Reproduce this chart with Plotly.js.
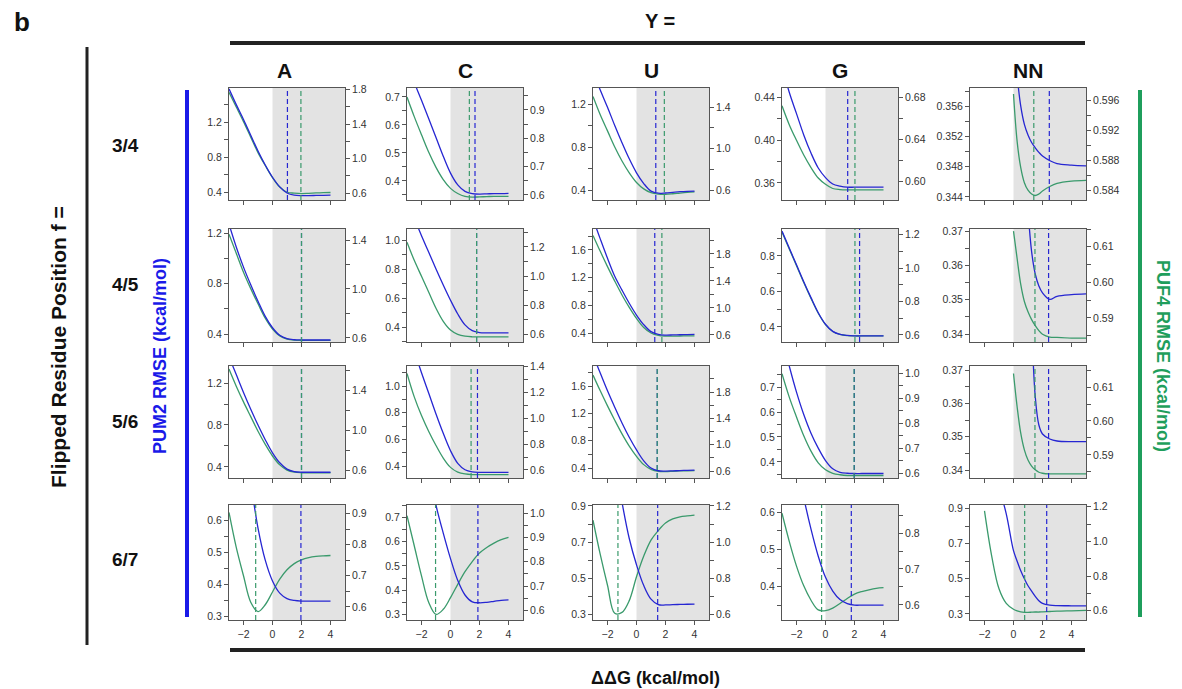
<!DOCTYPE html>
<html><head><meta charset="utf-8">
<script src="https://cdn.plot.ly/plotly-3.0.1.min.js"></script>
<style>html,body{margin:0;padding:0;background:#fff}#chart{width:1182px;height:689px}</style>
</head><body><div id="chart"></div>
<script>
// ---------------- DATA ----------------
const X  = [-3,-2.5,-2,-1.5,-1,-0.5,0,0.5,1,1.5,2,2.5,3,3.5,4];
const XN = [-2,-1.5,-1,-0.5,0,0.25,0.5,0.75,1,1.25,1.5,1.75,2,2.5,3,4,5];
const columns = ['A','C','U','G','NN'];
const rowLabels = ['3/4','4/5','5/6','6/7'];

// PUM2 RMSE (left axis), one array per column A, C, U, G, NN
const pum2_f34 = [
 [1.58,1.40,1.23,1.05,0.87,0.71,0.57,0.46,0.39,0.365,0.36,0.36,0.362,0.364,0.365],
 [0.82,0.752,0.688,0.622,0.555,0.488,0.428,0.386,0.363,0.355,0.353,0.354,0.355,0.355,0.356],
 [1.50,1.33,1.17,1.0,0.84,0.69,0.56,0.46,0.39,0.37,0.372,0.378,0.384,0.388,0.39],
 [0.47,0.445,0.425,0.405,0.388,0.374,0.365,0.359,0.357,0.356,0.356,0.356,0.356,0.356,0.356],
 [null,null,null,null,null,0.3600,0.3560,0.3536,0.3522,0.3512,0.3505,0.3499,0.3494,0.3488,0.3484,0.3482,0.3481]
];
const pum2_f45 = [
 [1.27,1.09,0.93,0.79,0.66,0.54,0.45,0.39,0.363,0.355,0.353,0.353,0.353,0.353,0.353],
 [1.27,1.15,1.03,0.915,0.80,0.69,0.585,0.49,0.415,0.375,0.362,0.36,0.36,0.36,0.36],
 [2.05,1.76,1.48,1.22,1.02,0.83,0.66,0.52,0.42,0.38,0.37,0.372,0.375,0.378,0.38],
 [0.94,0.845,0.75,0.655,0.565,0.48,0.415,0.375,0.358,0.352,0.35,0.35,0.35,0.35,0.35],
 [null,null,null,null,null,null,null,null,0.3760,0.3640,0.3575,0.3540,0.3520,0.3501,0.3510,0.3515,0.3517]
];
const pum2_f56 = [
 [1.45,1.28,1.11,0.95,0.80,0.66,0.535,0.44,0.38,0.356,0.35,0.35,0.35,0.35,0.35],
 [1.42,1.26,1.10,0.945,0.79,0.645,0.515,0.42,0.372,0.356,0.352,0.352,0.352,0.352,0.352],
 [2.05,1.79,1.53,1.29,1.06,0.85,0.665,0.505,0.40,0.36,0.355,0.358,0.362,0.366,0.368],
 [0.90,0.785,0.68,0.59,0.515,0.455,0.405,0.372,0.358,0.354,0.353,0.353,0.353,0.353,0.353],
 [null,null,null,null,null,null,null,null,null,0.385,0.362,0.3535,0.3508,0.3493,0.3487,0.3485,0.3485]
];
const pum2_f67 = [
 [null,null,null,0.72,0.575,0.475,0.41,0.372,0.355,0.349,0.347,0.347,0.347,0.347,0.347],
 [null,null,null,0.90,0.75,0.635,0.53,0.44,0.38,0.352,0.348,0.35,0.354,0.358,0.36],
 [null,null,null,null,0.92,0.72,0.575,0.46,0.385,0.355,0.353,0.355,0.356,0.357,0.358],
 [null,null,0.74,0.64,0.555,0.482,0.425,0.388,0.365,0.354,0.35,0.35,0.35,0.35,0.35],
 [null,null,1.02,0.87,0.66,0.60,0.545,0.50,0.46,0.43,0.40,0.375,0.36,0.35,0.347,0.346,0.346]
];

// PUF4 RMSE (right axis)
const puf4_f34 = [
 [1.77,1.60,1.43,1.25,1.07,0.92,0.78,0.67,0.61,0.60,0.595,0.598,0.602,0.605,0.607],
 [0.945,0.876,0.812,0.750,0.697,0.654,0.623,0.605,0.595,0.592,0.593,0.594,0.595,0.595,0.595],
 [1.501,1.325,1.170,1.015,0.880,0.766,0.673,0.611,0.574,0.561,0.559,0.564,0.571,0.577,0.582],
 [0.672,0.654,0.639,0.625,0.613,0.603,0.597,0.593,0.592,0.5917,0.5917,0.5917,0.5917,0.5917,0.5917],
 [null,null,null,null,0.5968,0.5905,0.5870,0.5850,0.5840,0.5835,0.5833,0.5835,0.5839,0.5845,0.5849,0.5852,0.5853]
];
const puf4_f45 = [
 [1.447,1.292,1.137,1.003,0.879,0.761,0.673,0.617,0.591,0.582,0.580,0.580,0.580,0.580,0.580],
 [1.233,1.108,0.998,0.888,0.778,0.688,0.628,0.598,0.585,0.581,0.581,0.581,0.581,0.581,0.581],
 [2.075,1.839,1.613,1.398,1.193,1.009,0.845,0.711,0.629,0.593,0.583,0.583,0.585,0.587,0.588],
 [1.215,1.114,1.014,0.913,0.818,0.730,0.662,0.621,0.603,0.596,0.594,0.594,0.594,0.594,0.594],
 [null,null,null,null,0.6144,0.6067,0.5994,0.5946,0.5917,0.5895,0.5878,0.5864,0.5854,0.5846,0.5845,0.5843,0.5843]
];
const puf4_f56 = [
 [1.610,1.4385,1.281,1.134,0.987,0.856,0.740,0.651,0.599,0.578,0.5725,0.5725,0.5725,0.5725,0.5725],
 [1.345,1.164,1.020,0.897,0.789,0.692,0.620,0.584,0.569,0.564,0.564,0.564,0.564,0.564,0.564],
 [2.057,1.818,1.590,1.372,1.164,0.978,0.822,0.697,0.625,0.596,0.592,0.596,0.601,0.604,0.606],
 [0.999,0.905,0.825,0.750,0.688,0.641,0.613,0.599,0.593,0.59,0.59,0.59,0.59,0.59,0.59],
 [null,null,null,null,0.6140,0.6042,0.5964,0.5915,0.5885,0.5867,0.5856,0.5849,0.5846,0.5844,0.5844,0.5844,0.5844]
];
const puf4_f67 = [
 [0.903,0.791,0.700,0.615,0.585,0.607,0.648,0.689,0.719,0.739,0.751,0.758,0.762,0.764,0.765],
 [0.990,0.866,0.742,0.632,0.583,0.604,0.652,0.707,0.759,0.801,0.836,0.859,0.877,0.891,0.901],
 [1.121,0.932,0.762,0.607,0.612,0.677,0.809,0.923,1.011,1.064,1.106,1.128,1.140,1.145,1.149],
 [0.855,0.777,0.708,0.653,0.613,0.586,0.584,0.591,0.604,0.618,0.630,0.637,0.642,0.646,0.648],
 [1.176,0.914,0.727,0.643,0.609,0.600,0.594,0.591,0.591,0.592,0.593,0.593,0.594,0.596,0.598,0.600,0.602]
];

// optimal ddG (dashed lines), per row, per column
const pum2Opt = [[1.03,1.69,1.33,1.53,2.47],[2.0,1.8,1.26,2.35,2.42],[2.0,1.86,1.43,1.99,2.42],[1.96,1.89,1.46,1.78,2.29]];
const puf4Opt = [[1.96,1.30,1.92,2.03,1.40],[2.0,1.8,1.75,2.03,1.48],[2.0,1.42,1.43,1.97,1.48],[-1.16,-1.03,-1.28,-0.27,0.77]];

// axis ranges
const pum2Range = [
 [[0.31,1.59],[0.332,0.732],[0.307,1.349],[0.344,0.449],[0.3436,0.3584]],
 [[0.337,1.232],[0.297,1.076],[0.27,1.903],[0.315,0.952],[0.3377,0.3706]],
 [[0.295,1.362],[0.31,1.15],[0.254,1.893],[0.335,0.785],[0.3376,0.3712]],
 [[0.288,0.647],[0.277,0.751],[0.27,0.905],[0.31,0.62],[0.265,0.92]]
];
const puf4Range = [
 [[0.52,1.82],[0.582,0.977],[0.504,1.583],[0.582,0.689],[0.5827,0.5976]],
 [[0.567,1.49],[0.545,1.324],[0.496,2.17],[0.558,1.233],[0.5832,0.615]],
 [[0.52,1.64],[0.538,1.402],[0.494,2.195],[0.58,1.03],[0.5832,0.6162]],
 [[0.558,0.927],[0.56,1.034],[0.57,1.205],[0.558,0.878],[0.547,1.21]]
];
// tick steps [dtick, tick0, format]
const leftTicks = [
 [[0.4,0,'.1f'],[0.1,0,'.1f'],[0.4,0,'.1f'],[0.04,0,'.2f'],[0.004,0,'.3f']],
 [[0.4,0,'.1f'],[0.2,0,'.1f'],[0.4,0,'.1f'],[0.2,0,'.1f'],[0.01,0,'.2f']],
 [[0.4,0,'.1f'],[0.2,0,'.1f'],[0.4,0,'.1f'],[0.1,0,'.1f'],[0.01,0,'.2f']],
 [[0.1,0,'.1f'],[0.1,0,'.1f'],[0.2,0.1,'.1f'],[0.1,0,'.1f'],[0.2,0.1,'.1f']]
];
const rightTicks = [
 [[0.4,0.2,'.1f'],[0.1,0,'.1f'],[0.4,0.2,'.1f'],[0.04,0,'.2f'],[0.004,0,'.3f']],
 [[0.4,0.2,'.1f'],[0.2,0,'.1f'],[0.4,0.2,'.1f'],[0.2,0,'.1f'],[0.01,0,'.2f']],
 [[0.4,0.2,'.1f'],[0.2,0,'.1f'],[0.4,0.2,'.1f'],[0.1,0,'.1f'],[0.01,0,'.2f']],
 [[0.1,0,'.1f'],[0.1,0,'.1f'],[0.2,0,'.1f'],[0.1,0,'.1f'],[0.2,0,'.1f']]
];
const xTickVals = [-2,0,2,4];

const pum2Rows = [pum2_f34,pum2_f45,pum2_f56,pum2_f67];
const puf4Rows = [puf4_f34,puf4_f45,puf4_f56,puf4_f67];

// ---------------- LAYOUT ----------------
const W = 1182, H = 689;
const PX = v => v / W, PY = v => 1 - v / H;
const colPx = [[229,345],[407,523],[593,709],[782,898],[970,1086]];
const rowPx = [[88,200],[229,342],[366,478],[505,620]];
const BLUE = '#2626d2', GREEN = '#3a9a6c', AX = '#555';
const tickFont = {family:'"Liberation Sans", Arial, sans-serif', size:10.5, color:'#333'};
const headFont = (s,c) => ({family:'"Liberation Sans Narrow", "Liberation Sans", Arial, sans-serif', size:s, color:c||'#111', weight:'bold'});

const layout = {width:W, height:H, margin:{l:0,r:0,t:0,b:0}, paper_bgcolor:'#fff', plot_bgcolor:'#fff', showlegend:false};
const traces = [], shapes = [], annotations = [];

for (let r = 0; r < 4; r++) {
  for (let c = 0; c < 5; c++) {
    const p = r*5 + c;
    const xid = p === 0 ? 'x' : 'x' + (p+1);
    const xKey = p === 0 ? 'xaxis' : 'xaxis' + (p+1);
    const rid = 2*p + 1, lid = 2*p + 2;
    const ryName = rid === 1 ? 'y' : 'y' + rid, lyName = 'y' + lid;
    const ryKey = rid === 1 ? 'yaxis' : 'yaxis' + rid, lyKey = 'yaxis' + lid;
    const xs = c === 4 ? XN : X;
    const lt = leftTicks[r][c], rt = rightTicks[r][c];

    layout[xKey] = {domain:[PX(colPx[c][0]), PX(colPx[c][1])], range:[-3,5], anchor:ryName,
      showline:true, mirror:true, linecolor:AX, linewidth:1, ticks:'outside', ticklen:4, tickcolor:AX,
      tickvals:xTickVals, showticklabels: r === 3, tickfont:tickFont, showgrid:false, zeroline:false, fixedrange:true};
    layout[ryKey] = {domain:[PY(rowPx[r][1]), PY(rowPx[r][0])], range:puf4Range[r][c], anchor:xid, side:'right',
      showline:true, linecolor:AX, linewidth:1, ticks:'outside', ticklen:4, tickcolor:AX,
      dtick:rt[0], tick0:rt[1], tickformat:rt[2], tickfont:tickFont,
      minor:{dtick:rt[0]/2, tick0:rt[1], ticks:'outside', ticklen:4, tickcolor:AX},
      showgrid:false, zeroline:false, fixedrange:true};
    layout[lyKey] = {overlaying:ryName, anchor:xid, side:'left', range:pum2Range[r][c],
      showline:true, linecolor:AX, linewidth:1, ticks:'outside', ticklen:4, tickcolor:AX,
      dtick:lt[0], tick0:lt[1], tickformat:lt[2], tickfont:tickFont,
      minor:{dtick:lt[0]/2, tick0:lt[1], ticks:'outside', ticklen:4, tickcolor:AX},
      showgrid:false, zeroline:false, fixedrange:true};

    shapes.push({type:'rect', xref:xid, yref:ryName+' domain', x0:0, x1:5, y0:0, y1:1,
      fillcolor:'#e3e3e3', line:{width:0}, layer:'below'});
    shapes.push({type:'line', xref:xid, yref:ryName+' domain', x0:pum2Opt[r][c], x1:pum2Opt[r][c], y0:0, y1:1,
      line:{color:BLUE, width:1.2, dash:'5px,3px'}, layer:'above'});
    shapes.push({type:'line', xref:xid, yref:ryName+' domain', x0:puf4Opt[r][c], x1:puf4Opt[r][c], y0:0, y1:1,
      line:{color:GREEN, width:1.2, dash:'5px,3px'}, layer:'above'});

    traces.push({type:'scatter', mode:'lines', x:xs, y:puf4Rows[r][c], xaxis:xid, yaxis:ryName,
      line:{color:GREEN, width:1.3, shape:'spline', smoothing:1}, hoverinfo:'skip'});
    traces.push({type:'scatter', mode:'lines', x:xs, y:pum2Rows[r][c], xaxis:xid, yaxis:lyName,
      line:{color:BLUE, width:1.3, shape:'spline', smoothing:1}, hoverinfo:'skip'});
  }
}

// decorations
const lineShape = (x0,y0,x1,y1,color,w) => ({type:'line', xref:'paper', yref:'paper',
  x0:PX(x0), y0:PY(y0), x1:PX(x1), y1:PY(y1), line:{color:color, width:w}});
shapes.push(lineShape(230,43,1085,43,'#222',4));
shapes.push(lineShape(230,650,1085,650,'#222',4));
shapes.push(lineShape(87,47,87,645,'#222',3));
shapes.push(lineShape(187,90,187,617,'#1a1ae8',4));
shapes.push(lineShape(1140,90,1140,617,'#1f9e5c',4));

const ann = (text,x,y,font,angle) => ({text:text, x:PX(x), y:PY(y), xref:'paper', yref:'paper',
  showarrow:false, font:font, textangle:angle||0, xanchor:'center', yanchor:'middle'});
annotations.push(ann('b',22,22,headFont(26)));
annotations.push(ann('Y =',660,21,headFont(20)));
const colCenters = [284,465,651,840,1028];
columns.forEach((t,i) => annotations.push(ann(t,colCenters[i],70,headFont(21))));
const rowCenters = [145,284,421,559];
rowLabels.forEach((t,i) => annotations.push(ann(t,125,rowCenters[i],headFont(19))));
annotations.push(ann('Flipped Residue Position f =',58,347,headFont(21),-90));
annotations.push(ann('PUM2 RMSE (kcal/mol)',160,356,headFont(18,'#1a1ae8'),-90));
annotations.push(ann('PUF4 RMSE (kcal/mol)',1163,356,headFont(18,'#1f9e5c'),90));
annotations.push(ann('ΔΔG (kcal/mol)',655,678,headFont(18)));

layout.shapes = shapes;
layout.annotations = annotations;

Plotly.newPlot('chart', traces, layout, {displayModeBar:false, staticPlot:true});
</script>
</body></html>
